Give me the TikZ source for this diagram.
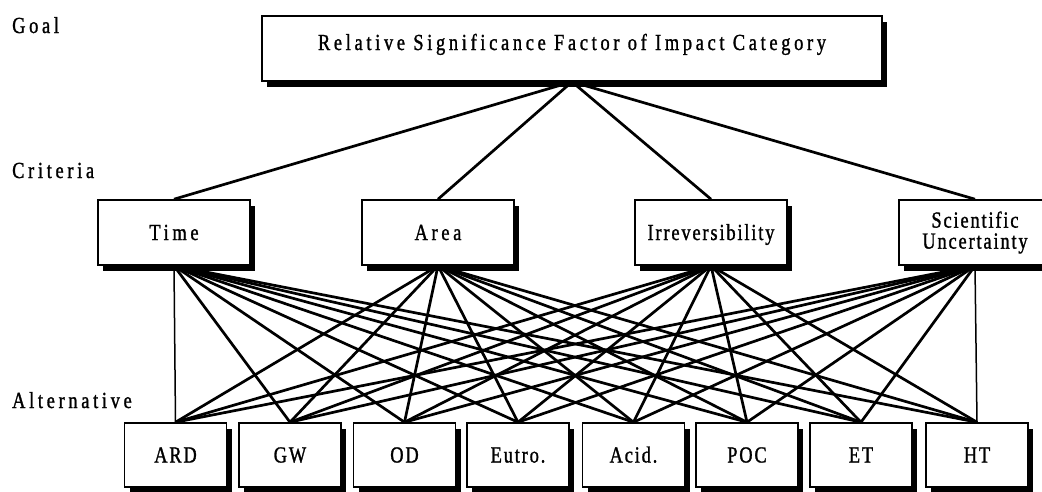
\documentclass[tikz,border=0pt]{standalone}
\usepackage{fontspec}
\newfontfamily\fA[LetterSpace=16,FakeStretch=0.8,FakeBold=1.2]{Liberation Serif}
\newfontfamily\fB[LetterSpace=8,FakeStretch=0.8,FakeBold=1.2]{Liberation Serif}
\usetikzlibrary{shadows}
\pgfdeclarelayer{bg}
\pgfsetlayers{bg,main}
\begin{document}
\begin{tikzpicture}[x=1pt,y=-1pt,
  box/.style={draw, line width=1.6pt, fill=white, inner sep=0pt,
    drop shadow={shadow xshift=5pt, shadow yshift=-6pt, fill=black, opacity=1}},
  goalbox/.style={box, minimum width=620pt, minimum height=65pt,
    font=\fA\fontsize{23}{20}\selectfont, text height=15pt, text depth=12pt},
  critbox/.style={box, minimum width=152pt, minimum height=65pt,
    font=\fA\fontsize{23}{20}\selectfont, text height=15pt, text depth=0pt},
  critboxB/.style={box, minimum width=152pt, minimum height=65pt,
    font=\fB\fontsize{23}{21}\selectfont},
  altbox/.style={box, minimum width=102pt, minimum height=64pt,
    font=\fB\fontsize{23}{20}\selectfont, text height=15pt, text depth=0pt},
  level/.style={anchor=base west, inner sep=0pt, font=\fA\fontsize{23}{20}\selectfont},
  link/.style={line width=2.7pt},
  vlink/.style={line width=1.5pt}]
\useasboundingbox (0,0) rectangle (1042,491);
\clip (0,0) rectangle (1042,491);

% level labels
\node[level] (lgoal) at (12,33) {Goal};
\node[level] (lcrit) at (12,178) {Criteria};
\node[level] (lalt) at (12,408) {Alternative};

% goal
\node[goalbox] (goal) at (572,48.5) {Relative Significance Factor of Impact Category};

% criteria
\node[critbox] (time) at (174,232.5) {Time};
\node[critbox] (area) at (438,232.5) {Area};
\node[critboxB, text height=15pt, text depth=0pt] (irr) at (711,232.5) {Irreversibility};
\node[critboxB, align=center] (sci) at (975,232.5) {Scientific\\Uncertainty};

% alternatives
\node[altbox] (ard)  at (175.5,455) {ARD};
\node[altbox] (gw)   at (290,455) {GW};
\node[altbox] (od)   at (404.5,455) {OD};
\node[altbox] (eut)  at (518,455) {Eutro.};
\node[altbox] (acid) at (633.5,455) {Acid.};
\node[altbox] (poc)  at (747,455) {POC};
\node[altbox] (et)   at (861,455) {ET};
\node[altbox] (ht)   at (977,455) {HT};

\begin{pgfonlayer}{bg}
  \foreach \c in {time,area,irr,sci}
    \draw[link] (goal.south) -- (\c.north);
  \foreach \a in {gw,od,eut,acid,poc,et,ht}
    \draw[link] (time.south) -- (\a.north);
  \draw[vlink] (time.south) -- (ard.north);
  \foreach \c in {area,irr}
    \foreach \a in {ard,gw,od,eut,acid,poc,et,ht}
      \draw[link] (\c.south) -- (\a.north);
  \foreach \a in {ard,gw,od,eut,acid,poc,et}
    \draw[link] (sci.south) -- (\a.north);
  \draw[vlink] (sci.south) -- (ht.north);
\end{pgfonlayer}
\end{tikzpicture}
\end{document}
